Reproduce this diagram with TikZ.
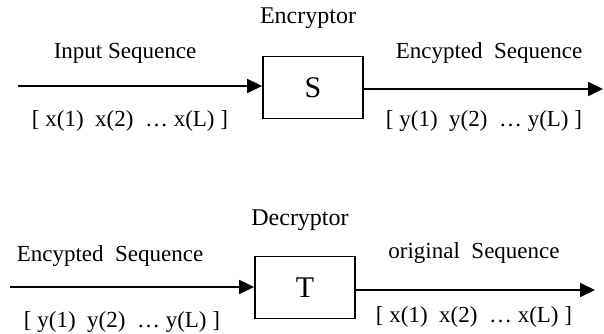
\documentclass[tikz,border=0pt]{standalone}
\usepackage{fontspec}
\setmainfont{Liberation Serif}
\usetikzlibrary{arrows.meta}
\begin{document}
\begin{tikzpicture}[x=1pt,y=-1pt,
  lbl/.style={inner sep=0pt, font=\fontsize{23}{26}\selectfont},
  blk/.style={draw, line width=1.8pt, minimum width=100pt, minimum height=62pt, inner sep=0pt, font=\fontsize{30}{32}\selectfont},
  arr/.style={line width=1.8pt, -{Triangle[length=15pt,width=14pt]}}]
\useasboundingbox (0,0) rectangle (604,334);
% encryptor
\node[blk] (S) at (313,87.5) {S};
\coordinate (in1) at (18,86);
\coordinate (out1) at (603,89);
\draw[arr] (in1) -- (in1 -| S.west);
\draw[arr] (out1 -| S.east) -- (out1);
\node[lbl, font=\fontsize{24}{26}\selectfont] (enc) at (308,18) {Encryptor};
\node[lbl] (inseq) at (125,53) {Input Sequence};
\node[lbl] (xs1) at (130,121) {[ x(1)\ \ x(2)\ \ \dots\ x(L) ]};
\node[lbl] (encseq1) at (489,53) {Encypted\ \ Sequence};
\node[lbl] (ys1) at (484,121) {[ y(1)\ \ y(2)\ \ \dots\ y(L) ]};
% decryptor
\node[blk] (T) at (305,287.5) {T};
\coordinate (in2) at (10,287);
\coordinate (out2) at (595,290);
\draw[arr] (in2) -- (in2 -| T.west);
\draw[arr] (out2 -| T.east) -- (out2);
\node[lbl, font=\fontsize{24}{26}\selectfont] (dec) at (300,220) {Decryptor};
\node[lbl] (encseq2) at (110,256) {Encypted\ \ Sequence};
\node[lbl] (ys2) at (122,322) {[ y(1)\ \ y(2)\ \ \dots\ y(L) ]};
\node[lbl] (orig) at (474,253) {original\ \ Sequence};
\node[lbl] (xs2) at (474,317) {[ x(1)\ \ x(2)\ \ \dots\ x(L) ]};
\end{tikzpicture}
\end{document}
